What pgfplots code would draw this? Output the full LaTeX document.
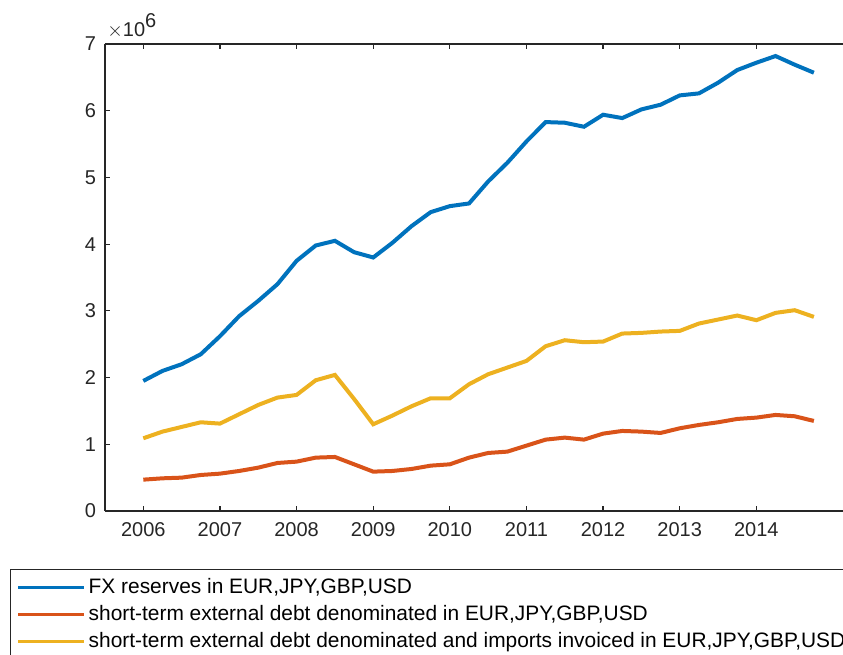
\documentclass[border=0pt]{standalone}
\usepackage{pgfplots}
\pgfplotsset{compat=1.18}
\usepackage{pgfplotstable}
\usepackage{fontspec}
\setmainfont{Liberation Sans}
\definecolor{mblue}{rgb}{0,0.447,0.741}
\definecolor{mred}{rgb}{0.85,0.325,0.098}
\definecolor{myel}{rgb}{0.929,0.694,0.125}
\definecolor{axgray}{rgb}{0.15,0.15,0.15}
\pgfplotstableread{
x a b c
2006.00 1.95 0.47 1.09
2006.25 2.10 0.49 1.19
2006.50 2.20 0.50 1.26
2006.75 2.35 0.54 1.33
2007.00 2.62 0.56 1.31
2007.25 2.92 0.60 1.45
2007.50 3.15 0.65 1.59
2007.75 3.40 0.72 1.70
2008.00 3.75 0.74 1.74
2008.25 3.98 0.80 1.96
2008.50 4.05 0.81 2.04
2008.75 3.88 0.70 1.68
2009.00 3.80 0.59 1.30
2009.25 4.02 0.60 1.43
2009.50 4.27 0.63 1.57
2009.75 4.48 0.68 1.69
2010.00 4.57 0.70 1.69
2010.25 4.61 0.80 1.90
2010.50 4.94 0.87 2.05
2010.75 5.22 0.89 2.15
2011.00 5.54 0.98 2.25
2011.25 5.83 1.07 2.47
2011.50 5.82 1.10 2.56
2011.75 5.76 1.07 2.53
2012.00 5.94 1.16 2.54
2012.25 5.89 1.20 2.66
2012.50 6.02 1.19 2.67
2012.75 6.09 1.17 2.69
2013.00 6.23 1.24 2.70
2013.25 6.26 1.29 2.81
2013.50 6.42 1.33 2.87
2013.75 6.61 1.38 2.93
2014.00 6.72 1.40 2.86
2014.25 6.82 1.44 2.97
2014.50 6.69 1.42 3.01
2014.75 6.57 1.35 2.91
}\datatable
\begin{document}
\begin{tikzpicture}
\begin{axis}[
  name=ax,
  at={(0,0)}, anchor=south west,
  scale only axis,
  width=369pt, height=233.5pt,
  xmin=2005.5, xmax=2015.13,
  ymin=0, ymax=7,
  axis x line=box,
  axis y line*=left,
  axis line style={axgray, line width=0.6pt},
  xtick={2006,2007,...,2014},
  ytick={0,1,...,7},
  xticklabels={2006,2007,2008,2009,2010,2011,2012,2013,2014},
  yticklabels={0,1,2,3,4,5,6,7},
  tick align=inside,
  major tick length=2.6pt,
  tick style={axgray, line width=0.6pt},
  ticklabel style={font=\fontsize{10}{12}\selectfont, text=axgray},
  xticklabel shift=2pt,
  yticklabel shift=1pt,
  legend cell align=left,
  legend style={
    at={(axis description cs:0,0)}, anchor=north west,
    xshift=-47.5pt, yshift=-29pt,
    draw=axgray, line width=0.5pt,
    font=\fontsize{10.45}{12}\selectfont,
    inner xsep=3pt, inner ysep=3.5pt,
    row sep=2.4pt,
    nodes={inner xsep=1.5pt, inner ysep=1pt},
  },
  legend image code/.code={\draw[#1, line width=1.6pt] (0pt,0pt) -- (33pt,0pt);},
]
\addplot[mblue, line width=2pt] table[x=x, y=a] {\datatable};
\addlegendentry{FX reserves in EUR,JPY,GBP,USD}
\addplot[mred, line width=2pt] table[x=x, y=b] {\datatable};
\addlegendentry{short-term external debt denominated in EUR,JPY,GBP,USD}
\addplot[myel, line width=2pt] table[x=x, y=c] {\datatable};
\addlegendentry{short-term external debt denominated and imports invoiced in EUR,JPY,GBP,USD}
\end{axis}
\node[anchor=base west, inner sep=0pt, text=axgray, font=\fontsize{10}{12}\selectfont] at ([xshift=1pt,yshift=3.7pt]ax.north west) {$\times$10\raisebox{0.45em}{\fontsize{10}{12}\selectfont 6}};
\pgfresetboundingbox
\useasboundingbox (-52.5pt,-72pt) rectangle (369pt,255.5pt);
\end{tikzpicture}
\end{document}
